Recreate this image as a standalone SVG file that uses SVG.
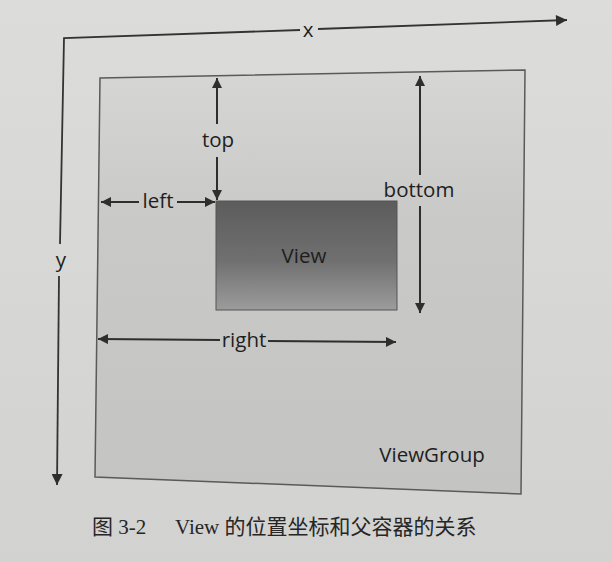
<svg xmlns="http://www.w3.org/2000/svg" width="612" height="562" viewBox="0 0 612 562">
<defs>
<linearGradient id="page" x1="0" y1="0" x2="0" y2="1">
<stop offset="0" stop-color="#dcdcda"/>
<stop offset="1" stop-color="#d2d2d0"/>
</linearGradient>
<linearGradient id="vg" x1="0" y1="0" x2="0" y2="1">
<stop offset="0" stop-color="#d6d6d4"/>
<stop offset="0.35" stop-color="#c9c9c7"/>
<stop offset="1" stop-color="#c4c4c2"/>
</linearGradient>
<linearGradient id="view" x1="0" y1="0" x2="0" y2="1">
<stop offset="0" stop-color="#5c5c5c"/>
<stop offset="0.55" stop-color="#707070"/>
<stop offset="1" stop-color="#9c9c9c"/>
</linearGradient>
<marker id="ah" viewBox="0 0 10 10" refX="10" refY="5" markerWidth="11" markerHeight="10" markerUnits="userSpaceOnUse" orient="auto-start-reverse">
<path d="M0,0 L10,5 L0,10 z" fill="#2e2e2e"/>
</marker>
<marker id="ahb" viewBox="0 0 10 10" refX="10" refY="5" markerWidth="13" markerHeight="11" markerUnits="userSpaceOnUse" orient="auto-start-reverse">
<path d="M0,0 L10,5 L0,10 z" fill="#2e2e2e"/>
</marker>
</defs>
<style>
.ln{stroke:#2e2e2e;stroke-width:2;fill:none}
.ax{stroke:#333;stroke-width:1.8;fill:none}
.lb{font-family:"Open Sans","Liberation Sans",sans-serif;font-size:20.5px;fill:#1e1e1e;text-anchor:middle}
.cap{font-family:"Liberation Serif","Noto Sans CJK SC",serif;font-size:21px;fill:#262626}
</style>
<rect x="0" y="0" width="612" height="562" fill="url(#page)"/>

<g id="viewgroup">
<polygon points="100,78 525,70 521,494 95,477" fill="url(#vg)" stroke="#5a5a5a" stroke-width="1.5"/>
<text class="lb" x="432" y="462">ViewGroup</text>
</g>

<g id="view">
<rect x="216" y="201" width="181" height="109" fill="url(#view)" stroke="#555" stroke-width="1"/>
<text class="lb" x="304" y="263">View</text>
</g>

<g id="axes">
<polyline class="ax" points="60,244 64,38 300,30"/>
<line class="ax" x1="318" y1="29" x2="567" y2="20" marker-end="url(#ahb)"/>
<line class="ax" x1="59" y1="276" x2="57" y2="485" marker-end="url(#ahb)"/>
<text class="lb" x="308" y="37" font-size="17">x</text>
<text class="lb" x="61" y="267" font-size="17">y</text>
</g>

<g id="connectors">
<line class="ln" x1="217" y1="124" x2="217" y2="78" marker-end="url(#ah)"/>
<line class="ln" x1="217" y1="157" x2="217" y2="200" marker-end="url(#ah)"/>
<text class="lb" x="218" y="147">top</text>

<line class="ln" x1="420" y1="175" x2="420" y2="76" marker-end="url(#ah)"/>
<line class="ln" x1="420" y1="206" x2="420" y2="313" marker-end="url(#ah)"/>
<text class="lb" x="419" y="197">bottom</text>

<line class="ln" x1="139" y1="202" x2="101" y2="202" marker-end="url(#ah)"/>
<line class="ln" x1="177" y1="202" x2="215" y2="202" marker-end="url(#ah)"/>
<text class="lb" x="158" y="208">left</text>

<line class="ln" x1="220" y1="340" x2="98" y2="339" marker-end="url(#ah)"/>
<line class="ln" x1="268" y1="341" x2="396" y2="342" marker-end="url(#ah)"/>
<text class="lb" x="244" y="347">right</text>
</g>

<g id="caption">
<text class="cap" x="92" y="534">图 3-2</text>
<text class="cap" x="175" y="534">View 的位置坐标和父容器的关系</text>
</g>
</svg>
